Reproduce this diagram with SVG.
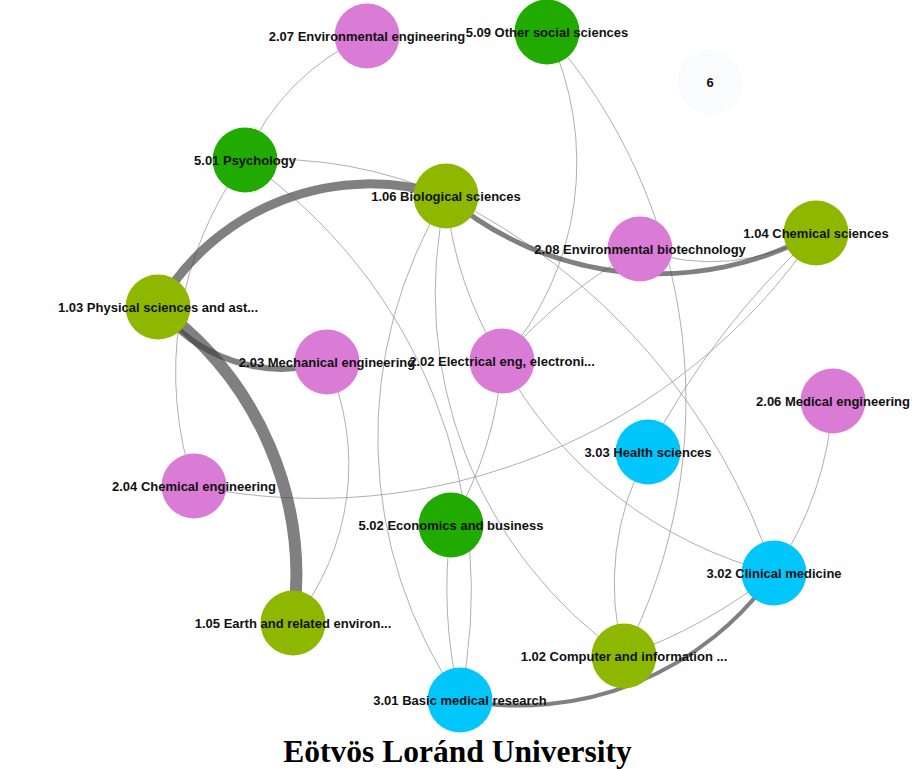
<svg xmlns="http://www.w3.org/2000/svg" width="914" height="769" viewBox="0 0 914 769">
<style>
.e{fill:none;stroke:#9a9a9a;stroke-width:0.8}
.t{fill:none;stroke:#444;stroke-opacity:0.68;stroke-linecap:butt}
.lbl{font-family:"Liberation Sans",Arial,sans-serif;font-weight:bold;font-size:13px;fill:#111;text-anchor:middle}
.pk{fill:#da7bd6}
.gr{fill:#21ab00}
.yg{fill:#8eb800}
.cy{fill:#00c6fc}
.title{font-family:"Liberation Serif","Times New Roman",serif;font-weight:bold;font-size:31.5px;fill:#000;text-anchor:middle}
</style>
<rect width="914" height="769" fill="#fff"/>
<g id="edges">
<path class="e" d="M367 36 A231 231 0 0 0 245 160"/>
<path class="e" d="M245 160 A440 440 0 0 1 446 196"/>
<path class="e" d="M245 160 A360 360 0 0 0 194 486"/>
<path class="e" d="M245 160 A524 524 0 0 1 460 700"/>
<path class="e" d="M547 32 A300.6 300.6 0 0 1 502 361"/>
<path class="e" d="M547 32 A558 558 0 0 1 624 656"/>
<path class="e" d="M446 196 A384 384 0 0 0 502 361"/>
<path class="e" d="M446 196 A461 461 0 0 0 460 700"/>
<path class="e" d="M446 196 A443 443 0 0 0 624 656"/>
<path class="e" d="M446 196 A649 649 0 0 1 774 573"/>
<path class="e" d="M640 249 A497 497 0 0 0 502 361"/>
<path class="e" d="M640 249 A205 205 0 0 0 816 233"/>
<path class="e" d="M816 233 A800 800 0 0 0 648 452"/>
<path class="e" d="M816 233 A604 604 0 0 1 194 486"/>
<path class="e" d="M502 361 A373.5 373.5 0 0 1 451 525"/>
<path class="e" d="M502 361 A431 431 0 0 0 774 573"/>
<path class="e" d="M833 401 A350 350 0 0 1 774 573"/>
<path class="e" d="M648 452 A274 274 0 0 0 624 656"/>
<path class="e" d="M624 656 A528 528 0 0 0 774 573"/>
<path class="e" d="M451 525 A484 484 0 0 0 460 700"/>
<path class="e" d="M327 362 A252.5 252.5 0 0 1 293 623"/>
<path class="t" stroke-width="9" d="M158 307 A244 244 0 0 1 446 196"/>
<path class="t" stroke-width="5" d="M446 196 A327 327 0 0 0 816 233"/>
<path class="t" stroke-width="6" d="M158 307 A155 155 0 0 0 327 362"/>
<path class="t" stroke-width="12" d="M158 307 A331.4 331.4 0 0 1 293 623"/>
<path class="t" stroke-width="4" d="M460 700 A311.8 311.8 0 0 0 774 573"/>
</g>
<g id="n6"><circle cx="710" cy="82" r="32.5" fill="#fafbfd"/><text class="lbl" x="710" y="86.5">6</text></g>
<g id="n207"><circle class="pk" cx="367" cy="36" r="32.5"/><text class="lbl" x="367" y="40.5">2.07 Environmental engineering</text></g>
<g id="n509"><circle class="gr" cx="547" cy="32" r="32.5"/><text class="lbl" x="547" y="36.5">5.09 Other social sciences</text></g>
<g id="n501"><circle class="gr" cx="245" cy="160" r="32.5"/><text class="lbl" x="245" y="164.5">5.01 Psychology</text></g>
<g id="n106"><circle class="yg" cx="446" cy="196" r="32.5"/><text class="lbl" x="446" y="200.5">1.06 Biological sciences</text></g>
<g id="n208"><circle class="pk" cx="640" cy="249" r="32.5"/><text class="lbl" x="640" y="253.5">2.08 Environmental biotechnology</text></g>
<g id="n104"><circle class="yg" cx="816" cy="233" r="32.5"/><text class="lbl" x="816" y="237.5">1.04 Chemical sciences</text></g>
<g id="n103"><circle class="yg" cx="158" cy="307" r="32.5"/><text class="lbl" x="158" y="311.5">1.03 Physical sciences and ast...</text></g>
<g id="n203"><circle class="pk" cx="327" cy="362" r="32.5"/><text class="lbl" x="327" y="366.5">2.03 Mechanical engineering</text></g>
<g id="n202"><circle class="pk" cx="502" cy="361" r="32.5"/><text class="lbl" x="502" y="365.5">2.02 Electrical eng, electroni...</text></g>
<g id="n206"><circle class="pk" cx="833" cy="401" r="32.5"/><text class="lbl" x="833" y="405.5">2.06 Medical engineering</text></g>
<g id="n303"><circle class="cy" cx="648" cy="452" r="32.5"/><text class="lbl" x="648" y="456.5">3.03 Health sciences</text></g>
<g id="n204"><circle class="pk" cx="194" cy="486" r="32.5"/><text class="lbl" x="194" y="490.5">2.04 Chemical engineering</text></g>
<g id="n502"><circle class="gr" cx="451" cy="525" r="32.5"/><text class="lbl" x="451" y="529.5">5.02 Economics and business</text></g>
<g id="n302"><circle class="cy" cx="774" cy="573" r="32.5"/><text class="lbl" x="774" y="577.5">3.02 Clinical medicine</text></g>
<g id="n105"><circle class="yg" cx="293" cy="623" r="32.5"/><text class="lbl" x="293" y="627.5">1.05 Earth and related environ...</text></g>
<g id="n102"><circle class="yg" cx="624" cy="656" r="32.5"/><text class="lbl" x="624" y="660.5">1.02 Computer and information ...</text></g>
<g id="n301"><circle class="cy" cx="460" cy="700" r="32.5"/><text class="lbl" x="460" y="704.5">3.01 Basic medical research</text></g>
<text class="title" x="457.5" y="762">Eötvös Loránd University</text>
</svg>
